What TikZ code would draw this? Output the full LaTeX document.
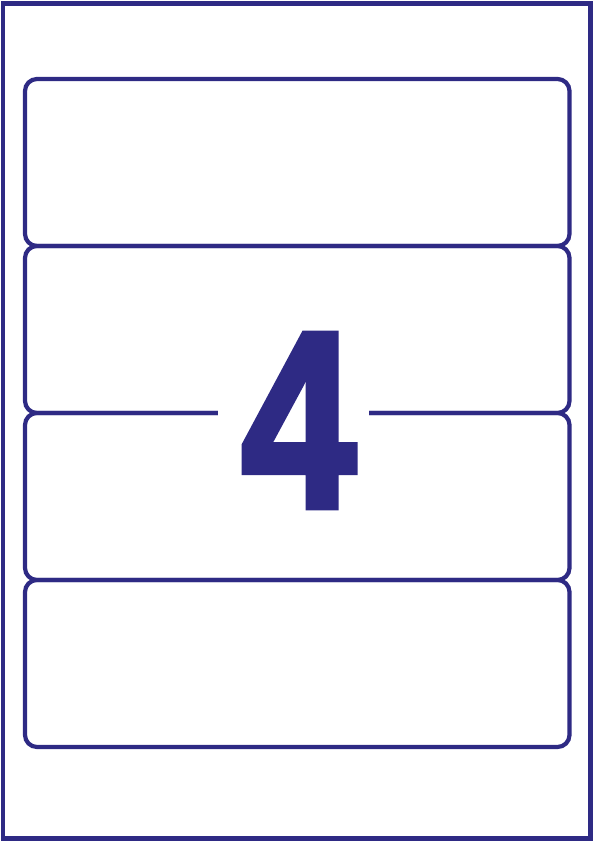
\documentclass[tikz,border=0pt]{standalone}
\usepackage{fontspec}
\setmainfont{Liberation Sans}
\newfontfamily\heavyfont[FakeBold=3]{Liberation Sans Bold}
\definecolor{avery}{RGB}{46,42,132}
\begin{document}
\begin{tikzpicture}[x=1pt,y=1pt,
  sheet/.style={draw=avery, line width=4.4pt, inner sep=0pt, minimum width=587.3pt, minimum height=835.3pt},
  labelbox/.style={draw=avery, line width=4.2pt, rounded corners=12pt, inner sep=0pt, minimum width=544.5pt, minimum height=167pt},
  gapbox/.style={fill=white, inner sep=0pt, minimum width=151pt, minimum height=12pt},
  digit/.style={text=avery, font=\fontsize{250}{250}\heavyfont, inner sep=0pt, xscale=0.82}]
\useasboundingbox (0,0) rectangle (596,842);
\node[sheet] (page) at (296.85,421) {};
\node[labelbox] (l1) at (297.25,679.5) {};
\node[labelbox] (l2) at (297.25,512.5) {};
\node[labelbox] (l3) at (297.25,345.5) {};
\node[labelbox] (l4) at (297.25,178.5) {};
\node[gapbox] (gap) at (293.5,429) {};
\node[digit, anchor=base] (four) at (298.5,335.5) {4};
\end{tikzpicture}
\end{document}
